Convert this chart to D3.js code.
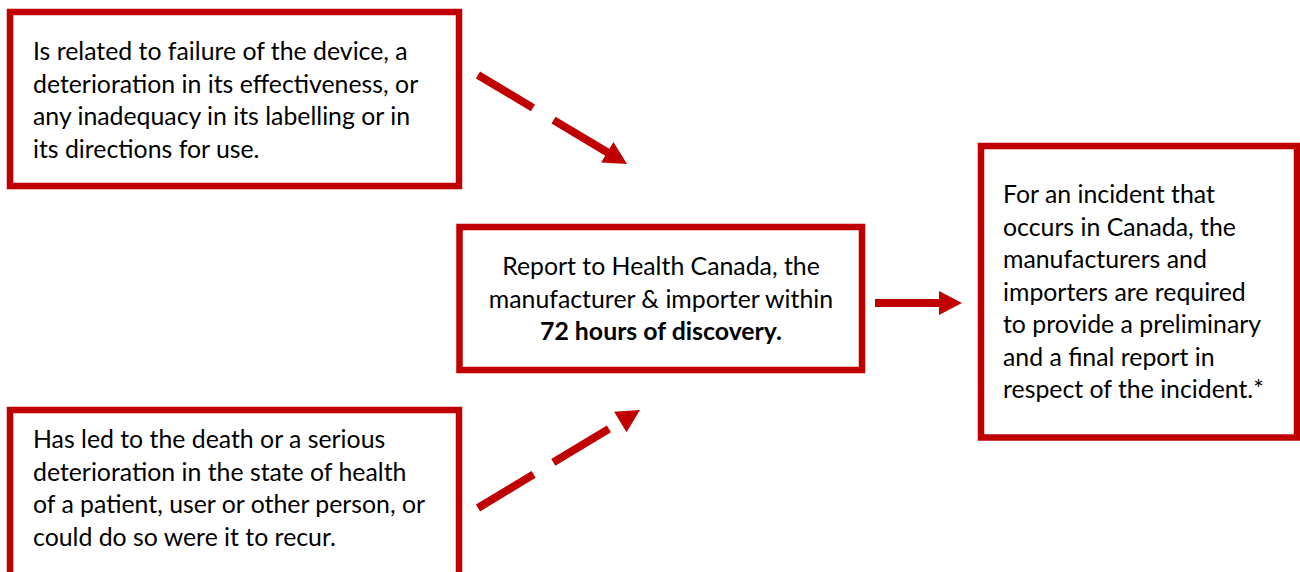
<!DOCTYPE html>
<html>
<head>
<meta charset="utf-8">
<script src="https://cdn.jsdelivr.net/npm/d3@7"></script>
<style>
  body { margin: 0; background: #ffffff; }
  svg { display: block; }
</style>
</head>
<body>
<svg id="chart" width="1300" height="572"></svg>
<script>
//box texts, one entry per line
var topLeftLines = [
    'Is related to failure of the device, a',
    'deterioration in its effectiveness, or',
    'any inadequacy in its labelling or in',
    'its directions for use.'
];
var bottomLeftLines = [
    'Has led to the death or a serious',
    'deterioration in the state of health',
    'of a patient, user or other person, or',
    'could do so were it to recur.'
];
var centerLines = [
    'Report to Health Canada, the',
    'manufacturer & importer within',
    '72 hours of discovery.'
];
var centerBold = [false, false, true];
var rightLines = [
    'For an incident that',
    'occurs in Canada, the',
    'manufacturers and',
    'importers are required',
    'to provide a preliminary',
    'and a final report in',
    'respect of the incident.*'
];

//layout (pixels)
var red = '#c00000',
    borderWidth = 6.5,
    lineStep = 32.5,
    arrowWidth = 8,
    headLength = 23,
    headWidth = 24;

var boxes = [
    {id: 'topLeft', x: 10, y: 12, w: 449, h: 174, tx: 33, ty: 60, anchor: 'start', lines: topLeftLines},
    {id: 'bottomLeft', x: 10, y: 410, w: 449, h: 200, tx: 33, ty: 448, anchor: 'start', lines: bottomLeftLines},
    {id: 'center', x: 459.5, y: 227, w: 402.5, h: 143, tx: 661, ty: 275, anchor: 'middle', lines: centerLines, bold: centerBold},
    {id: 'right', x: 981, y: 146, w: 316, h: 291.5, tx: 1003, ty: 203, anchor: 'start', lines: rightLines}
];

var arrows = [
    {from: [478, 75], to: [627, 164], dash: '64 24'},
    {from: [478, 508], to: [640, 410], dash: '65 23'},
    {from: [875, 303], to: [962, 303], dash: null}
];

var svg = d3.select('#chart');

//boxes
var box = svg.selectAll('g.box')
    .data(boxes)
    .enter()
    .append('g')
    .attr('class', 'box')
    .attr('id', d => d.id);

box.append('rect')
    .attr('x', d => d.x)
    .attr('y', d => d.y)
    .attr('width', d => d.w)
    .attr('height', d => d.h)
    .style('fill', '#ffffff')
    .style('stroke', red)
    .style('stroke-width', borderWidth);

var text = box.append('text')
    .attr('x', d => d.tx)
    .attr('y', d => d.ty)
    .style('font-family', 'Lato, "Open Sans", sans-serif')
    .style('font-size', '21px')
    .style('fill', '#000000')
    .style('text-anchor', d => d.anchor);

text.selectAll('tspan')
    .data(d => d.lines.map((l, i) => ({text: l, i: i, x: d.tx, bold: d.bold ? d.bold[i] : false})))
    .enter()
    .append('tspan')
    .attr('x', d => d.x)
    .attr('dy', d => d.i === 0 ? 0 : lineStep)
    .style('font-weight', d => d.bold ? 'bold' : 'normal')
    .text(d => d.text);

//fit the font so the first line of the top left box matches the reference width
var probe = svg.select('#topLeft tspan').node();
var measured = probe.getComputedTextLength();
var fitted = 21 * 375 / measured;
svg.selectAll('g.box text').style('font-size', fitted + 'px');

//arrows: shaft up to the head base, then a triangular head
var arrow = svg.selectAll('g.arrow')
    .data(arrows)
    .enter()
    .append('g')
    .attr('class', 'arrow');

arrow.each(function(d) {
    var dx = d.to[0] - d.from[0],
        dy = d.to[1] - d.from[1],
        len = Math.sqrt(dx * dx + dy * dy),
        ux = dx / len,
        uy = dy / len,
        bx = d.to[0] - ux * headLength,
        by = d.to[1] - uy * headLength,
        px = -uy * headWidth / 2,
        py = ux * headWidth / 2;

    d3.select(this).append('line')
        .attr('x1', d.from[0])
        .attr('y1', d.from[1])
        .attr('x2', bx + ux)
        .attr('y2', by + uy)
        .style('stroke', red)
        .style('stroke-width', arrowWidth)
        .style('stroke-dasharray', d.dash);

    d3.select(this).append('path')
        .attr('d', 'M' + d.to[0] + ',' + d.to[1] +
                   'L' + (bx + px) + ',' + (by + py) +
                   'L' + (bx - px) + ',' + (by - py) + 'Z')
        .style('fill', red);
});
</script>
</body>
</html>
